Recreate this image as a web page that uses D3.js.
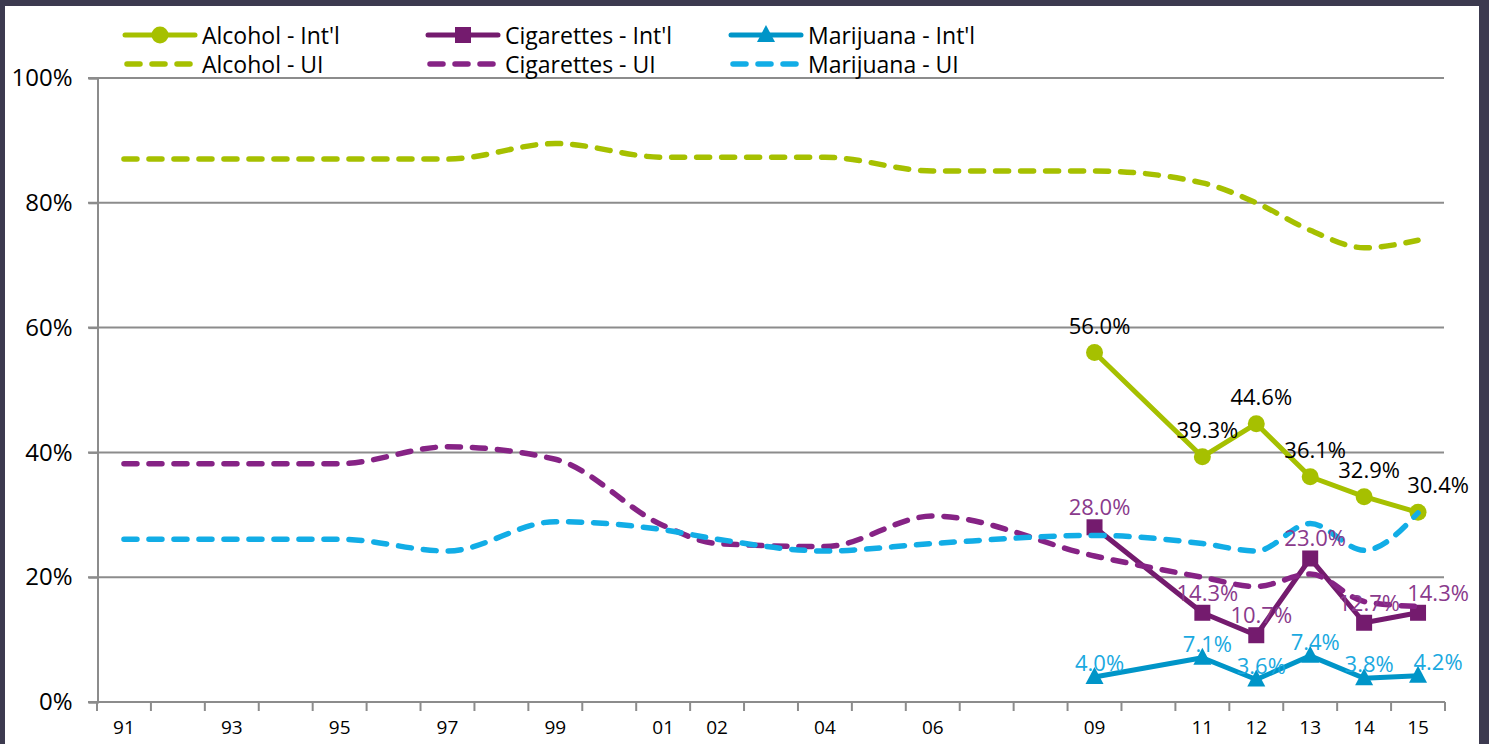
<!DOCTYPE html>
<html>
<head>
<meta charset="utf-8">
<script src="https://cdn.jsdelivr.net/npm/d3@7.9.0/dist/d3.min.js"></script>
<style>
  html, body { margin: 0; padding: 0; background: #3c3a4f; }
  svg { display: block; font-family: 'Open Sans', sans-serif; }
</style>
</head>
<body>
<svg id="chart" width="1489" height="744"></svg>
<script>
// categories (school years, 1991-2015) and the labels shown under the axis
const years = ['91','92','93','94','95','96','97','98','99','00','01','02','03','04','05','06','07','08','09','10','11','12','13','14','15'];
const tickLabels = ['91','','93','','95','','97','','99','','01','02','','04','','06','','','09','','11','12','13','14','15'];

// UI survey (dashed, smoothed), only some years surveyed
const alcoholUI    = [87.0,null,87.0,null,87.0,null,87.0,null,89.5,null,87.3,87.3,null,87.3,null,85.1,null,null,85.1,null,83.2,80.0,75.6,72.8,74.0];
const cigarettesUI = [38.2,null,38.2,null,38.2,null,40.9,null,38.9,null,28.3,25.4,null,24.9,null,29.8,null,null,23.4,null,20.0,18.5,20.5,16.1,15.3];
const marijuanaUI  = [26.1,null,26.1,null,26.1,null,24.2,null,28.9,null,27.6,26.1,null,24.2,null,25.4,null,null,26.7,null,25.4,24.2,28.6,24.3,30.3];

// international students (solid, markers, labelled)
const intlYears = ['09','11','12','13','14','15'];
const alcoholIntl    = [56.0, 39.3, 44.6, 36.1, 32.9, 30.4];
const cigarettesIntl = [28.0, 14.3, 10.7, 23.0, 12.7, 14.3];
const marijuanaIntl  = [4.0, 7.1, 3.6, 7.4, 3.8, 4.2];

const yTicks = [0, 0.2, 0.4, 0.6, 0.8, 1.0];

const svg = d3.select('#chart');

// white panel inside the dark frame
svg.append('rect').attr('x', 5).attr('y', 6).attr('width', 1474).attr('height', 740).attr('fill', '#fff');

const x = d3.scaleBand().domain(years).range([97, 1445]);
const y = d3.scaleLinear().domain([0, 1]).range([702, 78]);
const cx = (d) => x(d) + x.bandwidth() / 2;

// gridlines
svg.append('g')
  .selectAll('line')
  .data(yTicks.filter((t) => t > 0))
  .join('line')
  .attr('x1', 88).attr('x2', 1444)
  .attr('y1', (d) => y(d)).attr('y2', (d) => y(d))
  .attr('stroke', '#8c8c8c').attr('stroke-width', 2);

// y axis
const yAxis = svg.append('g')
  .attr('transform', 'translate(97.5,0)')
  .call(d3.axisLeft(y).tickValues(yTicks).tickFormat(d3.format('.0%')).tickSize(9).tickPadding(16));
yAxis.select('.domain').attr('stroke', '#8c8c8c').attr('stroke-width', 2);
yAxis.selectAll('.tick line').attr('stroke', '#8c8c8c').attr('stroke-width', 2);
yAxis.selectAll('.tick text').attr('font-size', 24).attr('fill', '#000').attr('font-family', 'Open Sans');

// x axis: ticks between categories, labels centred
const xg = svg.append('g').attr('transform', 'translate(0,702)');
xg.append('line').attr('x1', 88).attr('x2', 1445).attr('stroke', '#8c8c8c').attr('stroke-width', 2);
xg.selectAll('.tk')
  .data(years.concat(['end']))
  .join('line')
  .attr('class', 'tk')
  .attr('x1', (d, i) => (i < years.length ? x(d) : x.range()[1]))
  .attr('x2', (d, i) => (i < years.length ? x(d) : x.range()[1]))
  .attr('y1', 0).attr('y2', 9)
  .attr('stroke', '#8c8c8c').attr('stroke-width', 2);
xg.selectAll('text')
  .data(years)
  .join('text')
  .attr('x', (d) => cx(d))
  .attr('y', 32)
  .attr('text-anchor', 'middle')
  .attr('font-size', 19)
  .text((d, i) => tickLabels[i]);

const series = [
  { name: 'Alcohol - Int\'l', values: alcoholIntl, color: '#a6c000', marker: 'circle', labelColor: '#000', dy: -28 },
  { name: 'Cigarettes - Int\'l', values: cigarettesIntl, color: '#741b6e', marker: 'square', labelColor: '#8a3a8c', dy: -21 },
  { name: 'Marijuana - Int\'l', values: marijuanaIntl, color: '#0095c8', marker: 'triangle', labelColor: '#1aa9e0', dy: -15 }
];
const uiSeries = [
  { name: 'Alcohol - UI', values: alcoholUI, color: '#a6c000' },
  { name: 'Cigarettes - UI', values: cigarettesUI, color: '#862385' },
  { name: 'Marijuana - UI', values: marijuanaUI, color: '#12ade6' }
];

const straight = d3.line().x((d) => cx(d.year)).y((d) => y(d.v / 100));
const smooth = d3.line().x((d) => cx(d.year)).y((d) => y(d.v / 100)).curve(d3.curveMonotoneX);

function drawMarker(g, type, px, py, color) {
  if (type === 'circle') {
    g.append('circle').attr('cx', px).attr('cy', py).attr('r', 8.5).attr('fill', color);
  } else if (type === 'square') {
    g.append('rect').attr('x', px - 8).attr('y', py - 8).attr('width', 16).attr('height', 16).attr('fill', color);
  } else {
    g.append('path').attr('d', `M${px},${py - 10}L${px + 9},${py + 7}L${px - 9},${py + 7}Z`).attr('fill', color);
  }
}

// Int'l lines + markers
const intlG = svg.append('g');
series.forEach((s) => {
  const pts = intlYears.map((yr, i) => ({ year: yr, v: s.values[i] }));
  intlG.append('path').attr('d', straight(pts))
    .attr('fill', 'none').attr('stroke', s.color).attr('stroke-width', 5).attr('stroke-linejoin', 'round');
  pts.forEach((p) => drawMarker(intlG, s.marker, cx(p.year), y(p.v / 100), s.color));
});

// UI dashed smoothed lines (drawn over the Int'l ones)
uiSeries.forEach((s) => {
  const pts = years.map((yr, i) => ({ year: yr, v: s.values[i] })).filter((p) => p.v !== null);
  svg.append('path').attr('d', smooth(pts))
    .attr('fill', 'none').attr('stroke', s.color).attr('stroke-width', 5.5)
    .attr('stroke-dasharray', '13 12').attr('stroke-linecap', 'round');
});

// data labels
const labelG = svg.append('g');
series.forEach((s) => {
  intlYears.forEach((yr, i) => {
    const last = i === intlYears.length - 1;
    labelG.append('text')
      .attr('x', cx(yr) + (last ? 20 : 5))
      .attr('y', y(s.values[i] / 100) + s.dy)
      .attr('dominant-baseline', 'central')
      .attr('text-anchor', 'middle')
      .attr('font-size', 22)
      .attr('fill', s.labelColor)
      .text(d3.format('.1f')(s.values[i]) + '%');
  });
});

// legend
const legend = svg.append('g');
const colX = [125, 428, 731];
series.forEach((s, i) => {
  const lx = colX[i];
  legend.append('line').attr('x1', lx).attr('x2', lx + 70).attr('y1', 35).attr('y2', 35)
    .attr('stroke', s.color).attr('stroke-width', 5).attr('stroke-linecap', 'round');
  drawMarker(legend, s.marker, lx + 35, 35, s.color);
  legend.append('text').attr('x', lx + 77).attr('y', 35).attr('dominant-baseline', 'central')
    .attr('font-size', 23).text(s.name);
});
uiSeries.forEach((s, i) => {
  const lx = colX[i];
  legend.append('line').attr('x1', lx + 2).attr('x2', lx + 68).attr('y1', 64).attr('y2', 64)
    .attr('stroke', s.color).attr('stroke-width', 5.5)
    .attr('stroke-dasharray', '13 12').attr('stroke-linecap', 'round');
  legend.append('text').attr('x', lx + 77).attr('y', 64).attr('dominant-baseline', 'central')
    .attr('font-size', 23).text(s.name);
});
</script>
</body>
</html>
